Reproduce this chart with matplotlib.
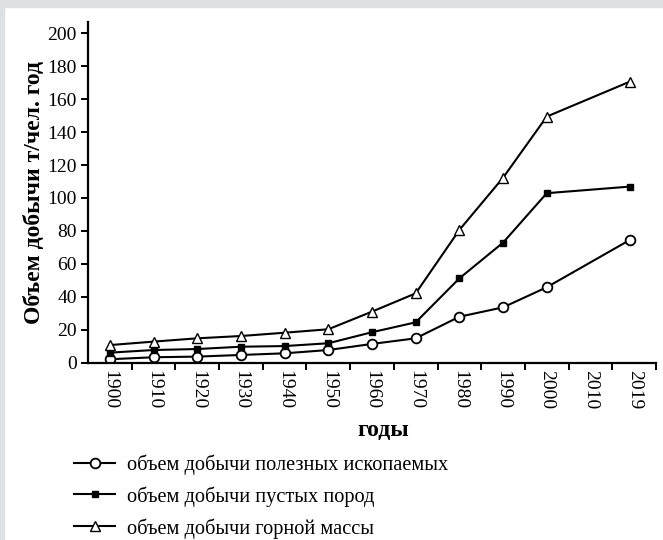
import matplotlib
matplotlib.use("Agg")
import matplotlib.pyplot as plt
from matplotlib.patches import Rectangle
from matplotlib.ticker import FixedLocator, NullFormatter
import numpy as np

plt.rcParams["font.family"] = ["Liberation Serif", "DejaVu Serif"]

# category labels on the x axis
year_labels = ["1900", "1910", "1920", "1930", "1940", "1950", "1960",
               "1970", "1980", "1990", "2000", "2010", "2019"]
# years that carry data (no point for 2010)
years = [1900, 1910, 1920, 1930, 1940, 1950, 1960, 1970, 1980, 1990, 2000, 2019]

minerals = [2.1, 3.3, 3.7, 4.7, 5.7, 7.7, 11.4, 14.8, 27.9, 33.6, 45.8, 74.5]
waste_rock = [6.1, 7.7, 8.3, 9.7, 10.1, 11.8, 18.5, 24.5, 51.2, 72.9, 102.9, 106.9]
rock_mass = [10.7, 12.8, 14.8, 16.2, 18.2, 20.3, 31.0, 42.1, 80.6, 112.3, 149.4, 170.6]

series_labels = [
    "объем добычи полезных ископаемых",
    "объем добычи пустых пород",
    "объем добычи горной массы",
]

fig = plt.figure(figsize=(6.63, 5.4), dpi=100)
fig.patch.set_facecolor("white")

# light grey frame strips along the top and left edges
grey = "#dfe0e2"
fig.patches.append(Rectangle((0, 1 - 7 / 540), 1, 7 / 540, transform=fig.transFigure,
                             color=grey, zorder=0))
fig.patches.append(Rectangle((0, 0), 4 / 663, 1, transform=fig.transFigure,
                             color=grey, zorder=0))

ax = fig.add_axes([88 / 663, 1 - 362.7 / 540, (656 - 88) / 663, (362.7 - 21.7) / 540])

x = (np.array(years) - 1900) / 10.0
lw = 1.5
l1, = ax.plot(x, minerals, color="black", lw=lw, marker="o", ms=7,
              mfc="white", mec="black", mew=1.3, label=series_labels[0])
l2, = ax.plot(x, waste_rock, color="black", lw=lw, marker="s", ms=5,
              mfc="black", mec="black", label=series_labels[1])
l3, = ax.plot(x, rock_mass, color="black", lw=lw, marker="^", ms=7,
              mfc="white", mec="black", mew=1.0, label=series_labels[2])

ax.set_xlim(-0.5, 12.5)
ax.set_ylim(0, 207)

ax.set_xticks(np.arange(len(year_labels)))
ax.set_xticklabels(year_labels, rotation=270, fontsize=14)
ax.tick_params(axis="x", which="major", length=0, pad=5)
ax.xaxis.set_minor_locator(FixedLocator(np.arange(0.5, 12.6, 1.0)))
ax.xaxis.set_minor_formatter(NullFormatter())
ax.tick_params(axis="x", which="minor", length=5, width=1.4, direction="out")

ax.set_yticks(np.arange(0, 201, 20))
ax.tick_params(axis="y", length=5, width=1.4, labelsize=14, pad=3)

for s in ("top", "right"):
    ax.spines[s].set_visible(False)
for s in ("left", "bottom"):
    ax.spines[s].set_linewidth(1.6)

ax.set_ylabel("Объем добычи т/чел. год", fontsize=17, fontweight="bold", labelpad=2)
fig.text(383 / 663, 1 - 430 / 540, "годы", fontsize=17, fontweight="bold",
         ha="center", va="center")

fig.legend(handles=[l1, l2, l3], loc="upper left",
           bbox_to_anchor=(66 / 663, 1 - 446 / 540), frameon=False,
           fontsize=14.7, handlelength=2.0, handletextpad=0.6, labelspacing=0.56,
           borderaxespad=0)

fig.savefig("out.png", dpi=100, facecolor="white")
